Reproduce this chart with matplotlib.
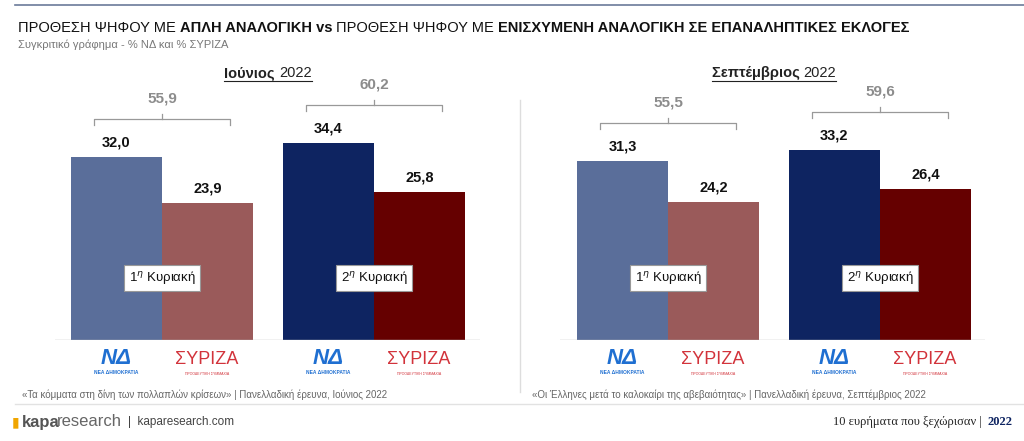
import matplotlib
matplotlib.use("Agg")
import matplotlib.pyplot as plt
from matplotlib.lines import Line2D

months_bold = ["Ιούνιος", "Σεπτέμβριος"]
year = "2022"
rounds = ["1", "2"]
nd = [[32.0, 34.4], [31.3, 33.2]]
syriza = [[23.9, 25.8], [24.2, 26.4]]
totals = [[55.9, 60.2], [55.5, 59.6]]
sources = ["«Τα κόμματα στη δίνη των πολλαπλών κρίσεων» | Πανελλαδική έρευνα, Ιούνιος 2022",
           "«Οι Έλληνες μετά το καλοκαίρι της αβεβαιότητας» | Πανελλαδική έρευνα, Σεπτέμβριος 2022"]

plt.rcParams['font.family'] = ['Liberation Sans', 'DejaVu Sans']
W, H = 1024, 441
fig = plt.figure(figsize=(W/100, H/100), dpi=100)
fig.patch.set_facecolor('white')

def fx(p): return p / W
def fy(p): return 1 - p / H

fig.canvas.draw()
r = fig.canvas.get_renderer()

fig.add_artist(Line2D([fx(15), fx(1024)], [fy(5), fy(5)], color='#6b7a99', lw=1.2))
title_parts = [("ΠΡΟΘΕΣΗ ΨΗΦΟΥ ΜΕ ", 'normal'), ("ΑΠΛΗ ΑΝΑΛΟΓΙΚΗ", 'bold'), (" vs ", 'bold'),
               ("ΠΡΟΘΕΣΗ ΨΗΦΟΥ ΜΕ ", 'normal'), ("ΕΝΙΣΧΥΜΕΝΗ ΑΝΑΛΟΓΙΚΗ ΣΕ ΕΠΑΝΑΛΗΠΤΙΚΕΣ ΕΚΛΟΓΕΣ", 'bold')]
x = 18
for s, wt in title_parts:
    t = fig.text(fx(x), fy(28), s, fontsize=10.5, va='center', fontweight=wt, color='#111')
    x += t.get_window_extent(r).width
fig.text(fx(18), fy(45), "Συγκριτικό γράφημα - % ΝΔ και % ΣΥΡΙΖΑ", fontsize=8, va='center', color='#777')

scale = 5.72
panels = [(55, 480, 162), (560, 985, 668)]
src_x = [22, 532]
spacing = 212
w = 0.43
for i, (l, rgt, c0) in enumerate(panels):
    ax = fig.add_axes([fx(l), fy(340), (rgt - l)/W, 280/H])
    ax.set_xlim((l - c0)/spacing, (rgt - c0)/spacing)
    ax.set_ylim(0, 280/scale)
    ax.axis('off')
    ax.axhline(0, color='#bbbbbb', lw=1)
    for g in range(2):
        ndc = '#5a6e9a' if g == 0 else '#0e2461'
        syc = '#9a5a5a' if g == 0 else '#650000'
        ax.bar(g - w/2, nd[i][g], w, color=ndc)
        ax.bar(g + w/2, syriza[i][g], w, color=syc)
        ax.text(g - w/2, nd[i][g] + 1.3, f"{nd[i][g]:.1f}".replace('.', ','), ha='center', va='bottom',
                fontsize=10.5, fontweight='bold', color='#111')
        ax.text(g + w/2, syriza[i][g] + 1.3, f"{syriza[i][g]:.1f}".replace('.', ','), ha='center', va='bottom',
                fontsize=10.5, fontweight='bold', color='#111')
        by = max(nd[i][g], syriza[i][g]) + 6.6
        x0, x1 = g - 0.32, g + 0.32
        ax.plot([x0, x0, x1, x1], [by - 1.0, by, by, by - 1.0], color='#999', lw=0.9, clip_on=False)
        ax.plot([g, g], [by, by + 0.9], color='#999', lw=0.9, clip_on=False)
        ax.text(g, by + 2.4, f"{totals[i][g]:.1f}".replace('.', ','), ha='center', va='bottom',
                fontsize=11, fontweight='bold', color='#8c8c8c', clip_on=False)
        ax.text(g, 62/scale, f"{rounds[g]}$^{{η}}$ Κυριακή", ha='center', va='center', fontsize=9.5,
                color='#111', bbox=dict(boxstyle='square,pad=0.35', fc='white', ec='#999', lw=0.8))
        lx = fx(c0 + g*spacing - 46)
        fig.text(lx, fy(358), "ΝΔ", ha='center', va='center', fontsize=16, fontweight='bold',
                 color='#1f6fd1', style='italic')
        fig.text(lx, fy(373), "ΝΕΑ ΔΗΜΟΚΡΑΤΙΑ", ha='center', va='center', fontsize=3.5,
                 fontweight='bold', color='#1f6fd1')
        sx = fx(c0 + g*spacing + 45)
        fig.text(sx, fy(360), "ΣΥΡΙΖΑ", ha='center', va='center', fontsize=13, color='#d2333b')
        fig.text(sx, fy(374), "ΠΡΟΟΔΕΥΤΙΚΗ ΣΥΜΜΑΧΙΑ", ha='center', va='center', fontsize=2.5, color='#d2333b')
    cx = fx((c0 + c0 + spacing) / 2)
    t1 = fig.text(cx, fy(73), months_bold[i] + " ", fontsize=10.5, fontweight='bold', ha='right',
                  va='center', color='#222')
    t2 = fig.text(cx, fy(73), year, fontsize=10.5, ha='left', va='center', color='#222')
    b1 = t1.get_window_extent(r); b2 = t2.get_window_extent(r)
    shift = (b1.width - b2.width) / 2 / W
    t1.set_x(cx + shift); t2.set_x(cx + shift)
    fig.add_artist(Line2D([cx + shift - b1.width/W, cx + shift + b2.width/W], [fy(81), fy(81)],
                          color='#222', lw=0.8))
    fig.text(fx(src_x[i]), fy(395), sources[i], fontsize=7, va='center', color='#666')

fig.add_artist(Line2D([fx(520), fx(520)], [fy(100), fy(392)], color='#dddddd', lw=1))
fig.add_artist(Line2D([fx(15), fx(1024)], [fy(404), fy(404)], color='#e2e2e2', lw=1))
fig.text(fx(12), fy(422), "▮", fontsize=10, va='center', color='#f0a500', family='DejaVu Sans')
fig.text(fx(22), fy(422), "kapa", fontsize=12, fontweight='bold', va='center', color='#555')
fig.text(fx(57), fy(422), "research", fontsize=12, va='center', color='#666')
fig.text(fx(128), fy(422), "|  kaparesearch.com", fontsize=8.5, va='center', color='#444')
fig.text(fx(985), fy(422), "10 ευρήματα που ξεχώρισαν | ", fontsize=9, va='center', ha='right',
         family=['Liberation Serif', 'DejaVu Serif'], color='#222')
fig.text(fx(1012), fy(422), "2022", fontsize=9, va='center', ha='right', fontweight='bold',
         family=['Liberation Serif', 'DejaVu Serif'], color='#0e2461')

fig.savefig("out.png", dpi=100)
